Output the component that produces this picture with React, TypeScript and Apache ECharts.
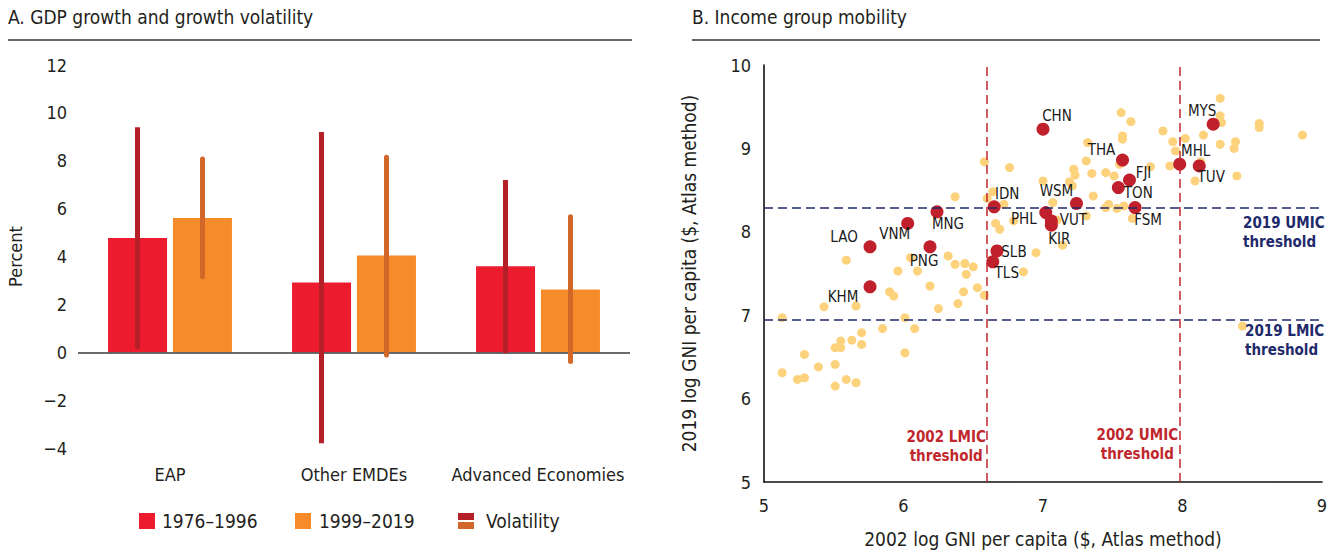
import React, { useEffect, useRef } from "react";
import * as echarts from "echarts";

const FONT = "'Liberation Sans Narrow', 'DejaVu Sans Condensed', 'Noto Sans', sans-serif";
const TXT = "#231f20";

// ---------- Panel A data ----------
const categories = ["EAP", "Other EMDEs", "Advanced Economies"];
const growth7696 = [4.77, 2.91, 3.59];
const growth9919 = [5.61, 4.04, 2.62];
const vol7696Low = [0.15, -3.8, -0.03];
const vol7696High = [9.4, 9.2, 7.2];
const vol9919Low = [3.15, -0.11, -0.39];
const vol9919High = [8.07, 8.15, 5.66];
const legendNames = ["1976–1996", "1999–2019", "Volatility"];

// ---------- Panel B data ----------
const labeledCodes = ["CHN", "IDN", "MNG", "VNM", "LAO", "PNG", "SLB", "TLS", "KHM", "WSM", "PHL", "VUT", "KIR", "THA", "FJI", "TON", "FSM", "MHL", "TUV", "MYS"];
const labeledX = [7.0, 6.65, 6.24, 6.03, 5.76, 6.19, 6.67, 6.64, 5.76, 7.24, 7.02, 7.06, 7.06, 7.57, 7.62, 7.54, 7.66, 7.98, 8.12, 8.22];
const labeledY = [9.23, 8.3, 8.24, 8.1, 7.82, 7.82, 7.77, 7.64, 7.34, 8.34, 8.23, 8.13, 8.08, 8.86, 8.62, 8.53, 8.29, 8.81, 8.79, 9.29];

const otherX = [6.58, 6.76, 7.0, 6.37, 6.6, 6.64, 6.72, 7.07, 6.66, 6.69, 6.79, 6.95, 6.86, 6.32, 6.37, 6.44, 6.5, 6.45, 6.53, 6.58, 6.43, 6.39, 6.25, 6.19, 6.1, 5.96, 6.05, 5.9, 5.93, 5.59, 5.43, 5.66, 5.13, 6.01, 5.85, 6.08, 5.7, 5.63, 5.55, 5.51, 5.55, 5.7, 6.01, 5.29, 5.39, 5.51, 5.13, 5.24, 5.29, 5.59, 5.66, 5.51, 7.56, 7.63, 7.57, 7.57, 7.32, 7.86, 7.93, 7.95, 7.31, 7.22, 7.23, 7.35, 7.45, 7.51, 7.55, 7.77, 7.91, 7.19, 7.21, 7.36, 7.45, 7.47, 7.53, 7.58, 7.31, 7.64, 7.1, 8.27, 8.27, 8.28, 8.15, 8.55, 8.55, 8.86, 8.02, 8.27, 8.38, 8.37, 8.13, 8.09, 8.39, 7.14, 8.43];
const otherY = [8.84, 8.77, 8.61, 8.42, 8.4, 8.48, 8.33, 8.35, 8.1, 8.03, 8.13, 7.75, 7.52, 7.71, 7.61, 7.62, 7.58, 7.49, 7.33, 7.24, 7.28, 7.14, 7.08, 7.35, 7.53, 7.53, 7.69, 7.28, 7.23, 7.66, 7.1, 7.11, 6.97, 6.97, 6.84, 6.84, 6.79, 6.7, 6.69, 6.61, 6.61, 6.65, 6.55, 6.53, 6.38, 6.41, 6.31, 6.23, 6.25, 6.23, 6.19, 6.15, 9.43, 9.32, 9.15, 9.11, 9.07, 9.21, 9.08, 8.97, 8.85, 8.75, 8.68, 8.7, 8.71, 8.67, 8.81, 8.78, 8.79, 8.6, 8.55, 8.43, 8.29, 8.33, 8.28, 8.31, 8.19, 8.16, 8.14, 9.6, 9.39, 9.31, 9.16, 9.3, 9.25, 9.16, 9.12, 9.05, 9.08, 9.0, 8.84, 8.61, 8.67, 7.84, 6.87];

const lmic2002 = 6.6;
const umic2002 = 7.984;
const lmic2019 = 6.943;
const umic2019 = 8.293;

// label offsets (layout only) for labelled economies
const labelOffsets: Record<string, [number, number]> = {
  CHN: [14, -13], IDN: [13, -13], MNG: [11, 12], VNM: [-13, 11], LAO: [-26, -10],
  PNG: [-6, 14], SLB: [17, 1], TLS: [14, 11], KHM: [-27, 10], WSM: [-20, -12],
  PHL: [-22, 6], VUT: [22, -1], KIR: [8, 14], THA: [-21, -10], FJI: [14, -7],
  TON: [20, 5], FSM: [13, 12], MHL: [16, -13], TUV: [12, 11], MYS: [-11, -13],
};

const RED = "#ec1c2e";
const ORANGE = "#f68b2a";
const VRED = "#b41f28";
const VORANGE = "#d1682a";
const NAVY = "#1f2a6b";
const TRED = "#c0272d";

const minus = (v: number) => String(v).replace("-", "−");

function volSeries(name: string, lows: number[], highs: number[], offset: number, color: string, cap: string) {
  return {
    type: "custom",
    name,
    xAxisIndex: 0,
    yAxisIndex: 0,
    z: 5,
    data: categories.map((_, i) => [i, lows[i], highs[i]]),
    renderItem: (params: any, api: any) => {
      const i = api.value(0);
      const lo = api.coord([i, api.value(1)]);
      const hi = api.coord([i, api.value(2)]);
      const x = lo[0] + offset;
      return {
        type: "line",
        shape: { x1: x, y1: lo[1], x2: x, y2: hi[1] },
        style: { stroke: color, lineWidth: 5, lineCap: cap },
      };
    },
  };
}

export default function App() {
  const ref = useRef<HTMLDivElement>(null);
  useEffect(() => {
    if (!ref.current) return;
    const chart = echarts.init(ref.current, null, { renderer: "svg" });
    const dash = [9, 5];
    const option: any = {
      animation: false,
      backgroundColor: "#ffffff",
      textStyle: { fontFamily: FONT, color: TXT },
      grid: [
        { left: 78, top: 65, width: 552, height: 383 },
        { left: 764, top: 65, width: 558, height: 417 },
      ],
      xAxis: [
        {
          type: "category",
          gridIndex: 0,
          data: categories,
          axisLine: { show: false, onZero: false },
          axisTick: { show: false },
          axisLabel: { interval: 0, fontSize: 18, color: TXT, margin: 17, fontFamily: FONT },
        },
        {
          type: "value",
          gridIndex: 1,
          min: 5,
          max: 9,
          interval: 1,
          axisLine: { show: true, onZero: false, lineStyle: { color: "#111", width: 1.6 } },
          axisTick: { show: false },
          splitLine: { show: false },
          axisLabel: { fontSize: 18, color: TXT, margin: 14, fontFamily: FONT },
          name: "2002 log GNI per capita ($, Atlas method)",
          nameLocation: "middle",
          nameGap: 47,
          nameTextStyle: { fontSize: 19, color: TXT, fontFamily: FONT },
        },
      ],
      yAxis: [
        {
          type: "value",
          gridIndex: 0,
          min: -4,
          max: 12,
          interval: 2,
          axisLine: { show: false },
          axisTick: { show: false },
          splitLine: { show: false },
          axisLabel: { fontSize: 18, color: TXT, margin: 11, fontFamily: FONT, formatter: minus },
          name: "Percent",
          nameLocation: "middle",
          nameGap: 54,
          nameTextStyle: { fontSize: 18, color: TXT, fontFamily: FONT },
        },
        {
          type: "value",
          gridIndex: 1,
          min: 5,
          max: 10,
          interval: 1,
          axisLine: { show: true, onZero: false, lineStyle: { color: "#111", width: 1.6 } },
          axisTick: { show: false },
          splitLine: { show: false },
          axisLabel: { fontSize: 18, color: TXT, margin: 13, fontFamily: FONT },
          name: "2019 log GNI per capita ($, Atlas method)",
          nameLocation: "middle",
          nameGap: 66,
          nameTextStyle: { fontSize: 19, color: TXT, fontFamily: FONT },
        },
      ],
      series: [
        {
          type: "bar",
          name: legendNames[0],
          xAxisIndex: 0,
          yAxisIndex: 0,
          data: growth7696,
          barWidth: 59,
          barGap: "10%",
          itemStyle: { color: RED },
          markLine: {
            silent: true,
            symbol: ["none", "none"],
            label: { show: false },
            lineStyle: { color: "#3a3a3a", width: 1.6, type: "solid" },
            data: [{ yAxis: 0 }],
          },
        },
        {
          type: "bar",
          name: legendNames[1],
          xAxisIndex: 0,
          yAxisIndex: 0,
          data: growth9919,
          barWidth: 59,
          barGap: "10%",
          itemStyle: { color: ORANGE },
        },
        volSeries(legendNames[2], vol7696Low, vol7696High, -32.5, VRED, "butt"),
        volSeries(legendNames[2] + " ", vol9919Low, vol9919High, 32.5, VORANGE, "round"),
        {
          type: "scatter",
          name: "thresholds",
          xAxisIndex: 1,
          yAxisIndex: 1,
          data: [],
          z: 1,
          markLine: {
            silent: true,
            symbol: ["none", "none"],
            label: { show: false },
            data: [
              { xAxis: lmic2002, lineStyle: { color: TRED, width: 1.5, type: dash } },
              { xAxis: umic2002, lineStyle: { color: TRED, width: 1.5, type: dash } },
              { yAxis: umic2019, lineStyle: { color: NAVY, width: 1.5, type: dash } },
              { yAxis: lmic2019, lineStyle: { color: NAVY, width: 1.5, type: dash } },
            ],
          },
          markPoint: {
            silent: true,
            symbol: "circle",
            symbolSize: 1,
            itemStyle: { color: "rgba(0,0,0,0)" },
            label: {
              show: true,
              position: "inside",
              fontFamily: FONT,
              fontWeight: "bold",
              fontSize: 15,
              lineHeight: 19,
              verticalAlign: "middle",
            },
            data: [
              { coord: [lmic2002, 5], label: { formatter: "2002 LMIC\nthreshold", color: TRED, align: "center", offset: [-41, -36] } },
              { coord: [umic2002, 5], label: { formatter: "2002 UMIC\nthreshold", color: TRED, align: "center", offset: [-43, -38] } },
              { coord: [8.434, umic2019], label: { formatter: "2019 UMIC\nthreshold", color: NAVY, align: "left", offset: [0, 25] } },
              { coord: [8.434, lmic2019], label: { formatter: "2019 LMIC\nthreshold", color: NAVY, align: "left", offset: [2, 21] } },
            ],
          },
        },
        {
          type: "scatter",
          name: "Other economies",
          xAxisIndex: 1,
          yAxisIndex: 1,
          z: 3,
          symbolSize: 9,
          itemStyle: { color: "#fdd27c", opacity: 1 },
          data: otherX.map((x, i) => [x, otherY[i]]),
        },
        {
          type: "scatter",
          name: "EAP economies",
          xAxisIndex: 1,
          yAxisIndex: 1,
          z: 4,
          symbolSize: 13,
          itemStyle: { color: "#c0202b", opacity: 1 },
          label: {
            show: true,
            position: "inside",
            formatter: "{b}",
            fontFamily: FONT,
            fontSize: 15,
            color: "#1a1a1a",
            align: "center",
            verticalAlign: "middle",
          },
          data: labeledCodes.map((c, i) => ({
            name: c,
            value: [labeledX[i], labeledY[i]],
            label: { offset: labelOffsets[c] },
          })),
        },
      ],
      graphic: [
        { type: "text", left: 8, top: 7, style: { text: "A. GDP growth and growth volatility", font: `19px ${FONT}`, fill: TXT } },
        { type: "line", shape: { x1: 8, y1: 40, x2: 632, y2: 40 }, style: { stroke: "#333", lineWidth: 1.6 } },
        { type: "text", left: 692, top: 7, style: { text: "B. Income group mobility", font: `19px ${FONT}`, fill: TXT } },
        { type: "line", shape: { x1: 692, y1: 40, x2: 1320, y2: 40 }, style: { stroke: "#333", lineWidth: 1.6 } },
        // legend
        { type: "rect", shape: { x: 139, y: 513, width: 16, height: 16 }, style: { fill: RED } },
        { type: "text", x: 162, y: 521, style: { text: legendNames[0], font: `19px ${FONT}`, fill: TXT, verticalAlign: "middle" } },
        { type: "rect", shape: { x: 295, y: 513, width: 16, height: 16 }, style: { fill: ORANGE } },
        { type: "text", x: 319, y: 521, style: { text: legendNames[1], font: `19px ${FONT}`, fill: TXT, verticalAlign: "middle" } },
        { type: "rect", shape: { x: 458, y: 513, width: 16, height: 7 }, style: { fill: VRED } },
        { type: "rect", shape: { x: 458, y: 522, width: 16, height: 7 }, style: { fill: VORANGE } },
        { type: "text", x: 486, y: 521, style: { text: legendNames[2], font: `19px ${FONT}`, fill: TXT, verticalAlign: "middle" } },
      ],
    };
    chart.setOption(option);
    return () => chart.dispose();
  }, []);
  return (
    <div
      ref={ref}
      style={{ position: "absolute", left: 0, top: 0, width: 1333, height: 560, background: "#fff" }}
    />
  );
}
